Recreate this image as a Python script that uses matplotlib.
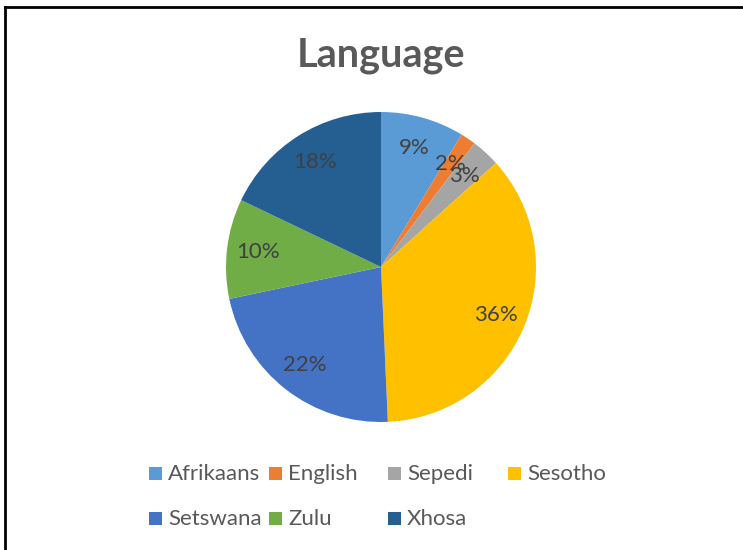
import matplotlib
matplotlib.use("Agg")
import matplotlib.pyplot as plt
from matplotlib.patches import Rectangle
from matplotlib.lines import Line2D

languages = ["Afrikaans", "English", "Sepedi", "Sesotho", "Setswana", "Zulu", "Xhosa"]
shares = [8.7, 1.6, 3.0, 36.0, 22.4, 10.4, 17.9]
colours = ["#5B9BD5", "#ED7D31", "#A5A5A5", "#FFC000", "#4472C4", "#70AD47", "#255E91"]

plt.rcParams['font.family'] = ['Lato', 'DejaVu Sans']

W, H = 743, 550
fig = plt.figure(figsize=(W / 100, H / 100), dpi=100)

# pie axes: centre (381, 267), radius 155 px
cx, cy, r = 381, 267, 155
ax = fig.add_axes([(cx - r) / W, (H - cy - r) / H, 2 * r / W, 2 * r / H])
wedges, texts, autotexts = ax.pie(shares, colors=colours, startangle=90, counterclock=False,
                                  autopct='%1.0f%%', pctdistance=0.8,
                                  textprops={'fontsize': 16, 'color': '#404040'})
ax.set_xlim(-1, 1)
ax.set_ylim(-1, 1)
ax.set_aspect('equal')

# title
fig.text(cx / W, 1 - 56 / H, "Language", ha='center', va='center',
         fontsize=28.5, fontweight='bold', color='#595959')

# legend, laid out like the office one (4 columns)
col_x = [149, 269, 388, 508]
row_y = [473, 518]
for i, (name, c) in enumerate(zip(languages, colours)):
    x = col_x[i % 4]
    y = row_y[i // 4]
    fig.patches.append(Rectangle((x / W, 1 - (y + 6.5) / H), 13 / W, 13 / H,
                                 transform=fig.transFigure, facecolor=c, edgecolor='none'))
    fig.text((x + 19) / W, 1 - (y + 1) / H, name, ha='left', va='center',
             fontsize=16, color='#595959')

# frame (only top and left visible in the crop)
fig.add_artist(Line2D([5 / W, 5 / W], [0, 1 - 7 / H], transform=fig.transFigure,
                      color='black', lw=2))
fig.add_artist(Line2D([5 / W, 1], [1 - 7 / H, 1 - 7 / H], transform=fig.transFigure,
                      color='black', lw=2))

fig.savefig("out.png", dpi=100)
